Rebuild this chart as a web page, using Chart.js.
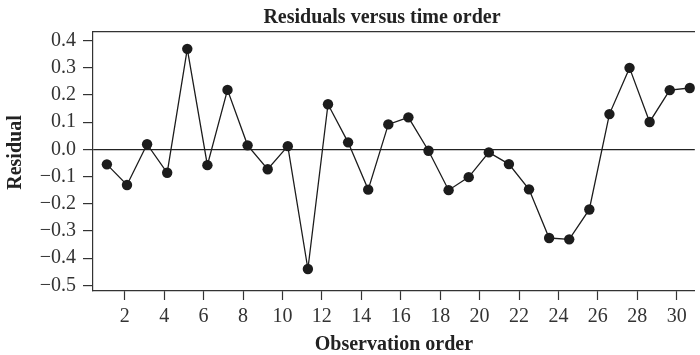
<!DOCTYPE html>
<html>
<head>
<meta charset="utf-8">
<script src="https://cdn.jsdelivr.net/npm/chart.js@4/dist/chart.umd.min.js"></script>
<style>
  html, body { margin: 0; padding: 0; background: #fff; overflow: hidden; }
  #wrap { width: 700px; height: 355px; }
</style>
</head>
<body>
<div id="wrap"><canvas id="chart" width="700" height="355"></canvas></div>
<script>
// Residuals from the fitted model, in the order the runs were made
const observationOrder = [1, 2, 3, 4, 5, 6, 7, 8, 9, 10,
  11, 12, 13, 14, 15, 16, 17, 18, 19, 20,
  21, 22, 23, 24, 25, 26, 27, 28, 29, 30];
const residuals = [-0.055, -0.131, 0.019, -0.086, 0.370, -0.058, 0.219, 0.015, -0.073, 0.012,
  -0.440, 0.166, 0.026, -0.148, 0.092, 0.118, -0.005, -0.150, -0.102, -0.011,
  -0.054, -0.147, -0.326, -0.331, -0.221, 0.130, 0.300, 0.101, 0.218, 0.226];
const xTickValues = [2, 4, 6, 8, 10, 12, 14, 16, 18, 20, 22, 24, 26, 28, 30];
const yTickValues = [-0.5, -0.4, -0.3, -0.2, -0.1, 0.0, 0.1, 0.2, 0.3, 0.4];

const chartTitle = 'Residuals versus time order';
const xTitle = 'Observation order';
const yTitle = 'Residual';

const FONT = '"Liberation Serif", "Times New Roman", serif';
const INK = '#1c1c1c';
const AXIS = '#333333';

const fmt = v => {
  const r = Math.round(v * 10) / 10;
  return (r < 0 ? '\u2212' : '') + Math.abs(r).toFixed(1);
};

// Figure title and the vertical axis label
const titlePlugin = {
  id: 'figureTitle',
  afterDraw(chart) {
    const ctx = chart.ctx;
    ctx.save();
    ctx.font = 'bold 20px ' + FONT;
    ctx.fillStyle = '#222';
    ctx.textAlign = 'center';
    ctx.textBaseline = 'alphabetic';
    ctx.fillText(chartTitle, 382, 23);

    ctx.translate(21, 152.5);
    ctx.rotate(-Math.PI / 2);
    ctx.fillText(yTitle, 0, 0);
    ctx.restore();
  }
};

new Chart(document.getElementById('chart'), {
  type: 'line',
  data: {
    datasets: [{
      data: observationOrder.map((o, i) => ({ x: o, y: residuals[i] })),
      xAxisID: 'xObs',
      yAxisID: 'y',
      borderColor: INK,
      borderWidth: 1.3,
      tension: 0,
      pointRadius: 5.2,
      pointHoverRadius: 5.2,
      pointBackgroundColor: INK,
      pointBorderWidth: 0
    }]
  },
  options: {
    responsive: false,
    animation: false,
    devicePixelRatio: 1,
    layout: { padding: 0 },
    plugins: {
      legend: { display: false },
      tooltip: { enabled: false },
      title: { display: false }
    },
    scales: {
      // observation positions; its border forms the top frame line
      xObs: {
        type: 'linear',
        position: 'top',
        min: 0.3095,
        max: 30.247,
        ticks: { display: false },
        grid: { display: false },
        border: { display: true, color: AXIS, width: 1.2 },
        afterFit(scale) { scale.height = 32; }
      },
      // labelled observation axis
      x: {
        type: 'linear',
        position: 'bottom',
        min: 0.391,
        max: 30.917,
        afterBuildTicks(scale) { scale.ticks = xTickValues.map(v => ({ value: v })); },
        ticks: {
          color: '#333',
          font: { family: FONT, size: 20 },
          padding: 5,
          maxRotation: 0,
          autoSkip: false,
          callback: v => String(v)
        },
        grid: {
          drawOnChartArea: false,
          drawTicks: true,
          tickLength: 9,
          tickColor: AXIS,
          tickWidth: 1.2
        },
        border: { display: true, color: AXIS, width: 1.2 },
        title: {
          display: true,
          text: xTitle,
          color: '#222',
          font: { family: FONT, size: 20, weight: 'bold', lineHeight: 1 },
          padding: { top: -1, bottom: 0 }
        },
        afterFit(scale) { scale.height = 64; }
      },
      y: {
        type: 'linear',
        position: 'left',
        min: -0.521,
        max: 0.432,
        afterBuildTicks(scale) { scale.ticks = yTickValues.map(v => ({ value: v })); },
        ticks: {
          color: '#333',
          font: { family: FONT, size: 20 },
          padding: 7,
          autoSkip: false,
          callback: v => fmt(v)
        },
        grid: {
          drawOnChartArea: true,
          drawTicks: true,
          tickLength: 10,
          tickColor: AXIS,
          tickWidth: 1.2,
          lineWidth: 1.2,
          color: c => (c.tick && Math.abs(c.tick.value) < 1e-9) ? '#222' : 'rgba(0,0,0,0)'
        },
        border: { display: true, color: AXIS, width: 1.2 },
        title: { display: false },
        afterFit(scale) { scale.width = 93; }
      }
    }
  },
  plugins: [titlePlugin]
});
</script>
</body>
</html>
